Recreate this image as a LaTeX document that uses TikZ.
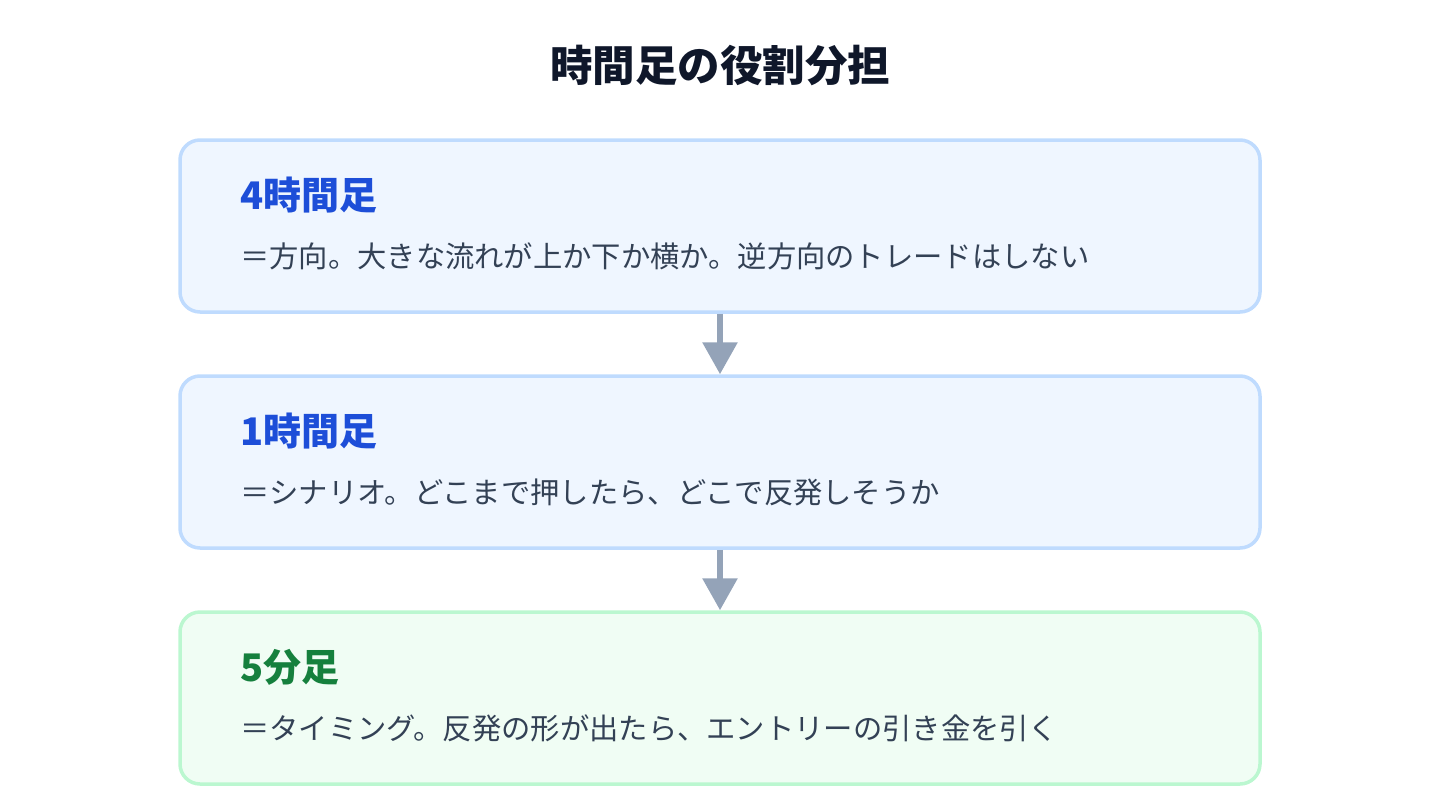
\documentclass[tikz,border=0pt]{standalone}
\usepackage{fontspec}
\setmainfont{Noto Sans CJK JP}
\usetikzlibrary{arrows.meta,positioning}
\definecolor{headc}{HTML}{0F172A}
\definecolor{bodyc}{HTML}{334155}
\definecolor{blueline}{HTML}{BFDBFE}
\definecolor{bluefill}{HTML}{EFF6FF}
\definecolor{bluetext}{HTML}{1D4ED8}
\definecolor{greenline}{HTML}{BBF7D0}
\definecolor{greenfill}{HTML}{F0FDF4}
\definecolor{greentext}{HTML}{15803D}
\definecolor{arrowc}{HTML}{94A3B8}
\begin{document}
\begin{tikzpicture}[x=1pt,y=-1pt,
  box/.style={draw,line width=3.5pt,rounded corners=20pt,minimum width=1080pt,minimum height=172pt,inner sep=0pt},
  bluebox/.style={box,draw=blueline,fill=bluefill},
  greenbox/.style={box,draw=greenline,fill=greenfill},
  head/.style={anchor=west,inner sep=0pt,font=\fontsize{38}{42}\selectfont\bfseries},
  body/.style={anchor=west,inner sep=0pt,font=\fontsize{29.3}{33}\selectfont,text=bodyc},
  flow/.style={draw=arrowc,line width=6pt,-{Triangle[width=34pt,length=32pt]}}]
	\useasboundingbox (0,0) rectangle (1440,800);
	\node[font=\fontsize{42.5}{47}\selectfont\bfseries,text=headc] (title) at (720,65) {時間足の役割分担};
	% three timeframes
	\node[bluebox] (h4) at (720,226) {};
	\node[bluebox] (h1) at (720,462) {};
	\node[greenbox] (m5) at (720,698) {};
	\node[head,text=bluetext] (h4t) at (240,195) {4時間足};
	\node[body] (h4b) at (240,256) {＝方向。大きな流れが上か下か横か。逆方向のトレードはしない};
	\node[head,text=bluetext] (h1t) at (240,431) {1時間足};
	\node[body] (h1b) at (240,492) {＝シナリオ。どこまで押したら、どこで反発しそうか};
	\node[head,text=greentext] (m5t) at (240,667) {5分足};
	\node[body] (m5b) at (240,728) {＝タイミング。反発の形が出たら、エントリーの引き金を引く};
	\draw[flow] (h4.south) -- (h1.north);
	\draw[flow] (h1.south) -- (m5.north);
\end{tikzpicture}
\end{document}
